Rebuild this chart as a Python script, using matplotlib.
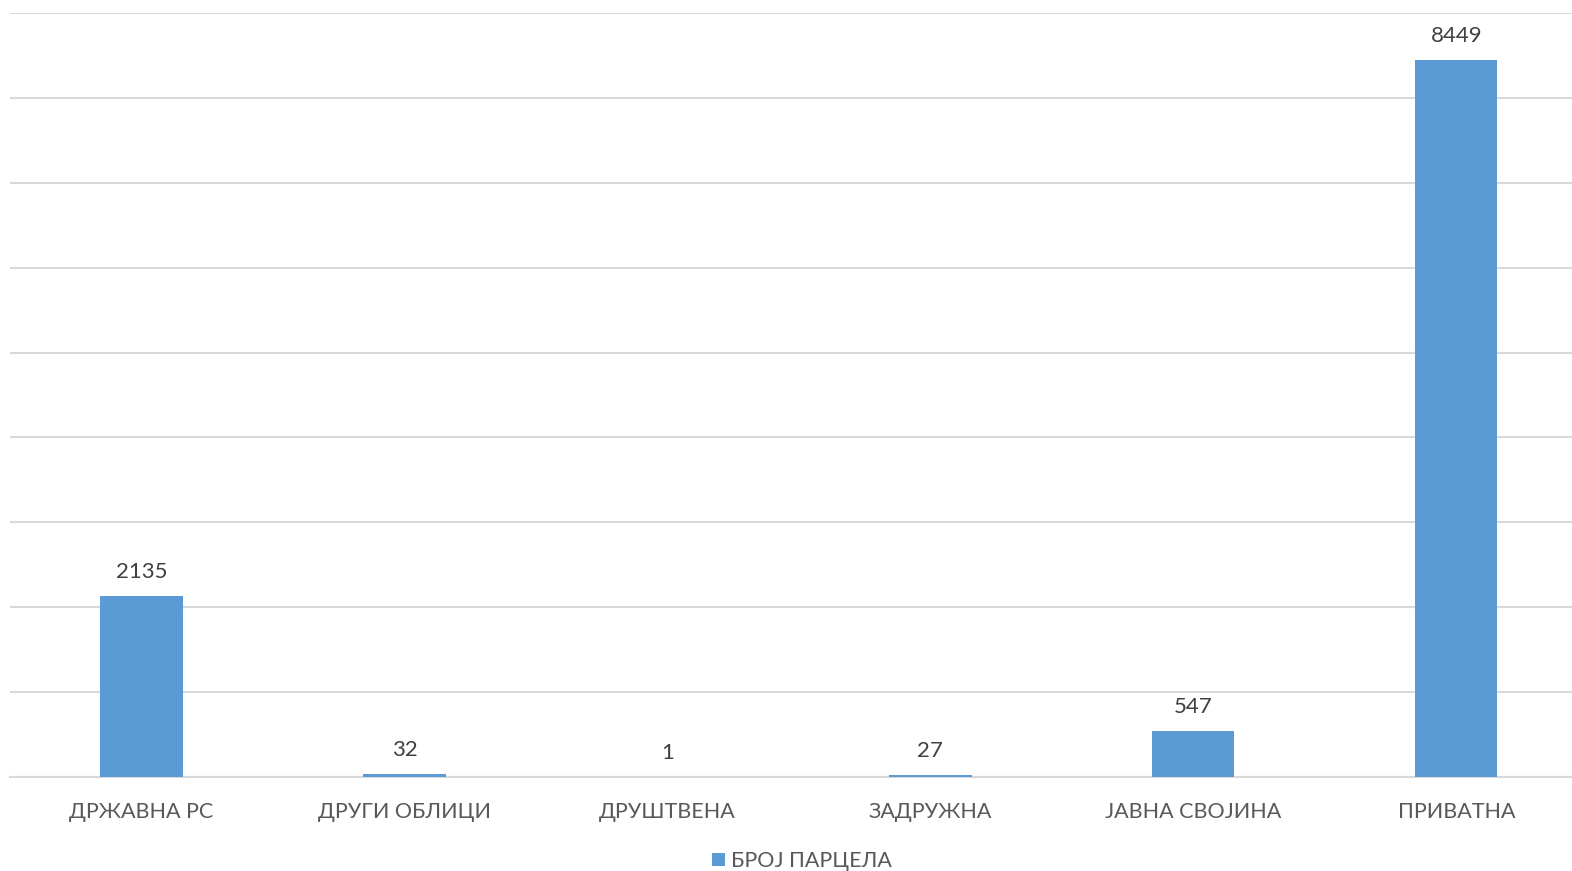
import matplotlib
matplotlib.use("Agg")
import matplotlib.pyplot as plt
import numpy as np

categories = ["ДРЖАВНА РС", "ДРУГИ ОБЛИЦИ", "ДРУШТВЕНА", "ЗАДРУЖНА", "ЈАВНА СВОЈИНА", "ПРИВАТНА"]
parcel_counts = [2135, 32, 1, 27, 547, 8449]
series_name = "БРОЈ ПАРЦЕЛА"

plt.rcParams['font.family'] = ['Lato', 'DejaVu Sans']

fig = plt.figure(figsize=(15.72, 8.71), dpi=100)
ax = fig.add_axes([10/1572, 94/871, 1562/1572, (777-13)/871])

x = np.arange(len(categories))
bars = ax.bar(x, parcel_counts, width=0.313, color="#5B9BD5", label=series_name, zorder=3)

for xi, v in zip(x, parcel_counts):
	ax.annotate(str(v), (xi, v), xytext=(0, 10), textcoords="offset points",
		ha="center", va="bottom", fontsize=16, color="#404040")

ax.set_xlim(-0.5, -0.5 + 5.94)
ax.set_ylim(0, 9000)
ax.set_yticks(np.arange(0, 9001, 1000))
ax.yaxis.grid(True, color="#D9D9D9", linewidth=1.5, zorder=0)
ax.tick_params(axis="y", left=False, labelleft=False)
ax.tick_params(axis="x", length=0, pad=18, labelsize=15.5, labelcolor="#595959")
ax.set_xticks(x)
ax.set_xticklabels(categories)
for s in ["top", "right", "left"]:
	ax.spines[s].set_visible(False)
ax.spines["bottom"].set_color("#D9D9D9")
ax.spines["bottom"].set_linewidth(1.5)

fig.legend(loc="center", bbox_to_anchor=(802/1572, 1 - 861/871), frameon=False,
	fontsize=15.5, labelcolor="#595959", handlelength=0.6, handleheight=0.6, handletextpad=0.3)

fig.savefig("out.png", dpi=100)
